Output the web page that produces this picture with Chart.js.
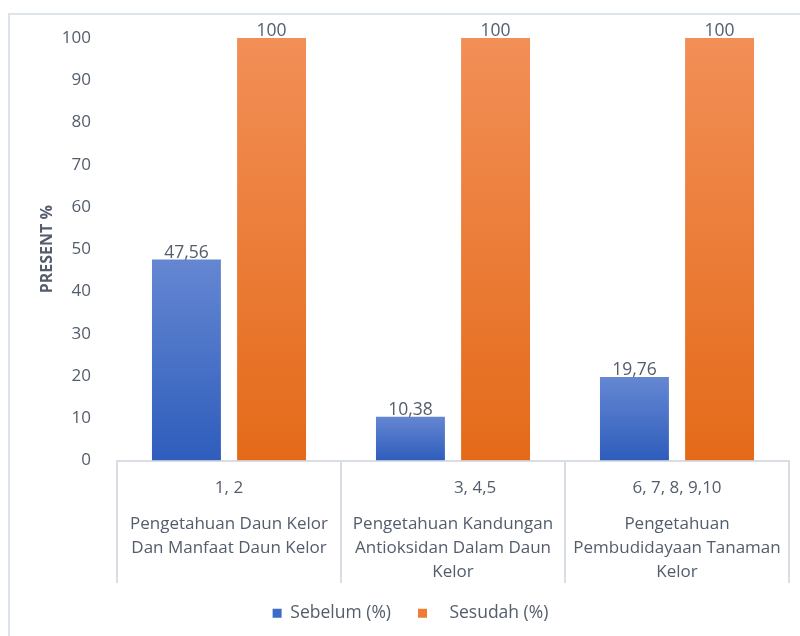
<!DOCTYPE html>
<html>
<head>
<meta charset="utf-8">
<script src="https://cdn.jsdelivr.net/npm/chart.js@4.4.0/dist/chart.umd.min.js"></script>
<style>
  html, body { margin: 0; padding: 0; background: #ffffff; }
  #wrap { width: 800px; height: 636px; position: relative; }
</style>
</head>
<body>
<div id="wrap"><canvas id="c" width="800" height="636"></canvas></div>
<script>
// Question groups (codes) and their topic descriptions
const codes = ['1, 2', '          3, 4,5', '6, 7, 8, 9,10'];
const topics = [
  ['Pengetahuan Daun Kelor', 'Dan Manfaat Daun Kelor'],
  ['Pengetahuan Kandungan', 'Antioksidan Dalam Daun', 'Kelor'],
  ['Pengetahuan', 'Pembudidayaan Tanaman', 'Kelor']
];
// Percentages before and after
const sebelum = [47.56, 10.38, 19.76];
const sesudah = [100, 100, 100];
const seriesNames = ['Sebelum (%)', '   Sesudah (%)'];
const yMin = 0, yMax = 100, yStep = 10;
const yTitle = 'PRESENT %';

const TEXT = '#535d6c';
const LINE = '#d9dee5';
const FONT = "'Open Sans', 'DejaVu Sans', sans-serif";

function barGradient(top, bottom) {
  return function (context) {
    const chart = context.chart;
    const area = chart.chartArea;
    if (!area || context.type !== 'data') return bottom;
    const y = chart.scales.y;
    const yTop = y.getPixelForValue(context.raw);
    const yBase = y.getPixelForValue(0);
    const g = chart.ctx.createLinearGradient(0, yTop, 0, yBase);
    g.addColorStop(0, top);
    g.addColorStop(1, bottom);
    return g;
  };
}

const frame = {
  id: 'frame',
  beforeDraw(chart) {
    const ctx = chart.ctx;
    ctx.save();
    ctx.strokeStyle = '#dde3ea';
    ctx.lineWidth = 2;
    ctx.strokeRect(9, 14, 820, 700);
    ctx.restore();
  }
};

const categoryAxis = {
  id: 'categoryAxis',
  afterDraw(chart) {
    const ctx = chart.ctx;
    const x = chart.scales.x;
    const area = chart.chartArea;
    const n = codes.length;
    const w = (area.right - area.left) / n;
    ctx.save();
    // divider lines between groups
    ctx.strokeStyle = LINE;
    ctx.lineWidth = 2;
    for (let i = 0; i <= n; i++) {
      const px = Math.round(area.left + i * w);
      ctx.beginPath();
      ctx.moveTo(px, area.bottom);
      ctx.lineTo(px, 583);
      ctx.stroke();
    }
    ctx.fillStyle = TEXT;
    ctx.textAlign = 'center';
    ctx.textBaseline = 'middle';
    ctx.font = '17px ' + FONT;
    for (let i = 0; i < n; i++) {
      const cx = x.getPixelForValue(i);
      ctx.fillText(codes[i], cx, 488);
      topics[i].forEach((t, k) => ctx.fillText(t, cx, 524 + k * 24));
    }
    ctx.restore();
  }
};

const valueLabels = {
  id: 'valueLabels',
  afterDatasetsDraw(chart) {
    const ctx = chart.ctx;
    ctx.save();
    ctx.fillStyle = TEXT;
    ctx.font = '17.5px ' + FONT;
    ctx.textAlign = 'center';
    ctx.textBaseline = 'alphabetic';
    chart.data.datasets.forEach((ds, di) => {
      chart.getDatasetMeta(di).data.forEach((el, i) => {
        const v = ds.data[i];
        ctx.fillText(String(v).replace('.', ','), el.x, el.y - 2);
      });
    });
    ctx.restore();
  }
};

new Chart(document.getElementById('c'), {
  type: 'bar',
  data: {
    labels: codes,
    datasets: [
      {
        label: seriesNames[0],
        data: sebelum,
        backgroundColor: barGradient('#6587d2', '#2e5dbc'),
        categoryPercentage: 0.76,
        barPercentage: 0.81
      },
      {
        label: seriesNames[1],
        data: sesudah,
        backgroundColor: barGradient('#f28f57', '#e46a19'),
        categoryPercentage: 0.76,
        barPercentage: 0.81
      }
    ]
  },
  options: {
    responsive: false,
    animation: false,
    devicePixelRatio: 1,
    layout: { padding: { left: 32, top: 38, right: 11, bottom: 4 } },
    plugins: {
      tooltip: { enabled: false },
      legend: {
        position: 'bottom',
        labels: {
          generateLabels(chart) {
            const solid = ['#3d6cc8', '#ef7c36'];
            return chart.data.datasets.map((ds, i) => ({
              text: ds.label,
              fillStyle: solid[i],
              strokeStyle: solid[i],
              lineWidth: 0,
              fontColor: TEXT,
              datasetIndex: i,
              hidden: false
            }));
          },
          boxWidth: 9,
          boxHeight: 9,
          padding: 27,
          color: TEXT,
          font: { size: 17.5, family: FONT }
        }
      }
    },
    scales: {
      x: {
        grid: { display: false },
        border: { display: true, color: LINE, width: 2 },
        ticks: { display: false },
        afterFit(s) { s.height = 117; }
      },
      y: {
        min: yMin,
        max: yMax,
        ticks: {
          stepSize: yStep,
          padding: 18,
          color: TEXT,
          font: { size: 17, family: FONT }
        },
        grid: { display: false },
        border: { display: false },
        title: {
          display: true,
          text: yTitle,
          color: TEXT,
          font: { size: 16, weight: 'bold', family: FONT },
          padding: { top: 6, bottom: 0 }
        },
        afterFit(s) { s.width = 85; }
      }
    }
  },
  plugins: [frame, categoryAxis, valueLabels]
});
</script>
</body>
</html>
